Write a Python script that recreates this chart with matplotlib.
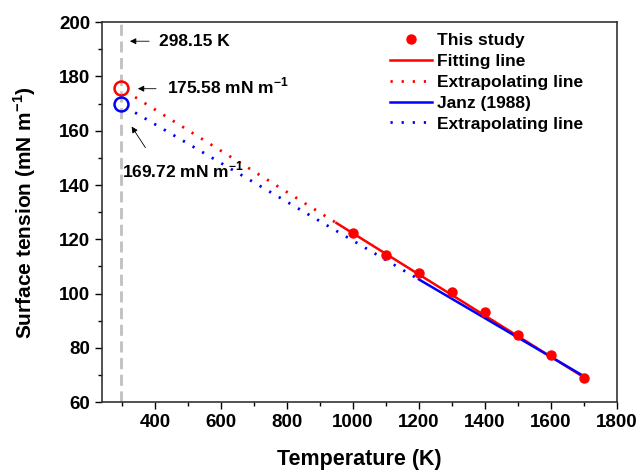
import matplotlib.pyplot as plt
from matplotlib.ticker import MultipleLocator

plt.rcParams['font.family'] = ['Liberation Sans', 'DejaVu Sans']
plt.rcParams['font.weight'] = 'bold'
plt.rcParams['mathtext.default'] = 'bf'

# measured data (this study)
T_meas = [1000, 1100, 1200, 1300, 1400, 1500, 1600, 1700]
st_meas = [122.3, 114.2, 107.6, 100.4, 93.1, 84.8, 77.2, 69.0]

# fitting line + extrapolation (this study)
T_fit = [950, 1700]
st_fit = [126.0, 69.1]
T_fit_ext = [340, 950]
st_fit_ext = [172.4, 126.0]

# Janz (1988)
T_janz = [1200, 1700]
st_janz = [105.2, 69.5]
T_janz_ext = [340, 1200]
st_janz_ext = [166.7, 105.2]

T_room = 298.15
st_room = [175.58, 169.72]

unit = r'mN m$^{\mathregular{-1}}$'

fig = plt.figure(figsize=(6.42, 4.73), dpi=100)
ax = fig.add_axes([0.159, 0.150, 0.802, 0.803])

ax.axvline(T_room, color='#c0c0c0', lw=2, ls=(0, (4, 2)), zorder=1)

ax.plot(T_meas, st_meas, 'o', color='red', ms=6.5, label='This study', zorder=4)
ax.plot(T_fit, st_fit, '-', color='red', lw=1.8, label='Fitting line')
ax.plot(T_fit_ext, st_fit_ext, color='red', lw=2, ls=(0, (0.8, 3.2)), label='Extrapolating line')
ax.plot(T_janz, st_janz, '-', color='blue', lw=1.8, label='Janz (1988)')
ax.plot(T_janz_ext, st_janz_ext, color='blue', lw=2, ls=(0, (0.8, 3.2)), label='Extrapolating line')

ax.plot([T_room], [st_room[0]], 'o', mfc='none', mec='red', mew=1.8, ms=10, zorder=5)
ax.plot([T_room], [st_room[1]], 'o', mfc='none', mec='blue', mew=1.8, ms=10, zorder=5)

ap = dict(arrowstyle='-|>', color='black', lw=0.6, mutation_scale=9)
ax.annotate('', xy=(316, 193.0), xytext=(391, 193.0), arrowprops=ap)
ax.text(412, 193.0, '298.15 K', fontsize=12.5, va='center')
ax.annotate('', xy=(340, 175.5), xytext=(412, 175.5), arrowprops=ap)
ax.text(436, 176.4, '175.58 ' + unit, fontsize=12.5, va='center')
ax.annotate('', xy=(325, 162.4), xytext=(376, 152.9), arrowprops=ap)
ax.text(300, 145.5, '169.72 ' + unit, fontsize=12.5, va='center')

ax.set_xlim(240, 1800)
ax.set_ylim(60, 200)
ax.xaxis.set_minor_locator(MultipleLocator(100))
ax.yaxis.set_major_locator(MultipleLocator(20))
ax.yaxis.set_minor_locator(MultipleLocator(10))
ax.set_xticks([400, 600, 800, 1000, 1200, 1400, 1600, 1800])
ax.tick_params(which='major', direction='out', length=5, width=1, labelsize=13.5)
ax.tick_params(which='minor', direction='out', length=3, width=1)
for lab in ax.get_xticklabels() + ax.get_yticklabels():
    lab.set_fontweight('bold')
for s in ax.spines.values():
    s.set_linewidth(1.2)
    s.set_color('#333333')

ax.set_xlabel('Temperature (K)', fontsize=15.5, fontweight='bold', va='center')
ax.set_ylabel('Surface tension (' + unit + ')', fontsize=15, fontweight='bold', va='center')
ax.xaxis.set_label_coords(0.5, -0.15)
ax.yaxis.set_label_coords(-0.15, 0.5)

ax.legend(loc='upper left', frameon=False, fontsize=12.5, handlelength=2.4,
          handletextpad=0.3, labelspacing=0.33, borderpad=0, borderaxespad=0,
          bbox_to_anchor=(0.559, 0.972))

fig.savefig('out.png', dpi=100)
